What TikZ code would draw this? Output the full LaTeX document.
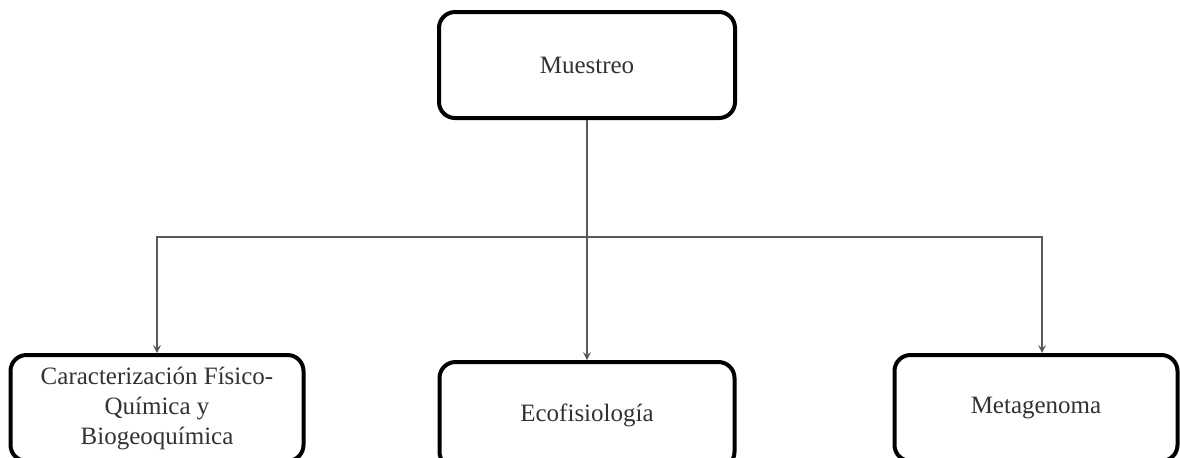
\documentclass[tikz,border=0pt]{standalone}
\usepackage{fontspec}
\setmainfont{Liberation Serif}
\usepackage{tikz}
\usetikzlibrary{arrows,shapes,positioning}
\usepackage{xcolor}
\definecolor{msgray}{RGB}{90,90,90}
\definecolor{mstext}{RGB}{50,50,50}
\tikzstyle{stage} = [rectangle, rounded corners=8pt, minimum width=148pt, minimum height=53pt, text centered, draw=black, line width=2pt, text=mstext, font=\fontsize{12.5}{15}\selectfont]
\tikzstyle{arrow} = [line width=0.7pt,->,>=stealth,color=msgray]

\begin{document}
\begin{tikzpicture}
\useasboundingbox (0,0) rectangle (590pt,-228.5pt);
\clip (0,0) rectangle (590pt,-228.5pt);
\node (muestreo) [stage] at (293.5pt,-32.5pt) {Muestreo};
\node (eco) [stage, below=120pt of muestreo, minimum width=147.5pt] {Ecofisiología};
\node (carac) [stage, left=66pt of eco, yshift=3.5pt, minimum width=146.5pt, align=center] {Caracterización Físico-\\Química y\\Biogeoquímica};
\node (meta) [stage, right=78pt of eco, yshift=3.5pt, minimum width=141.5pt] {Metagenoma};
\coordinate [below=58.5pt of muestreo.south] (junction);

\draw[arrow] (muestreo.south) -- (eco.north);
\draw[arrow] (junction) -| (carac.north);
\draw[arrow] (junction) -| ([xshift=3pt]meta.north);
\end{tikzpicture}
\end{document}
